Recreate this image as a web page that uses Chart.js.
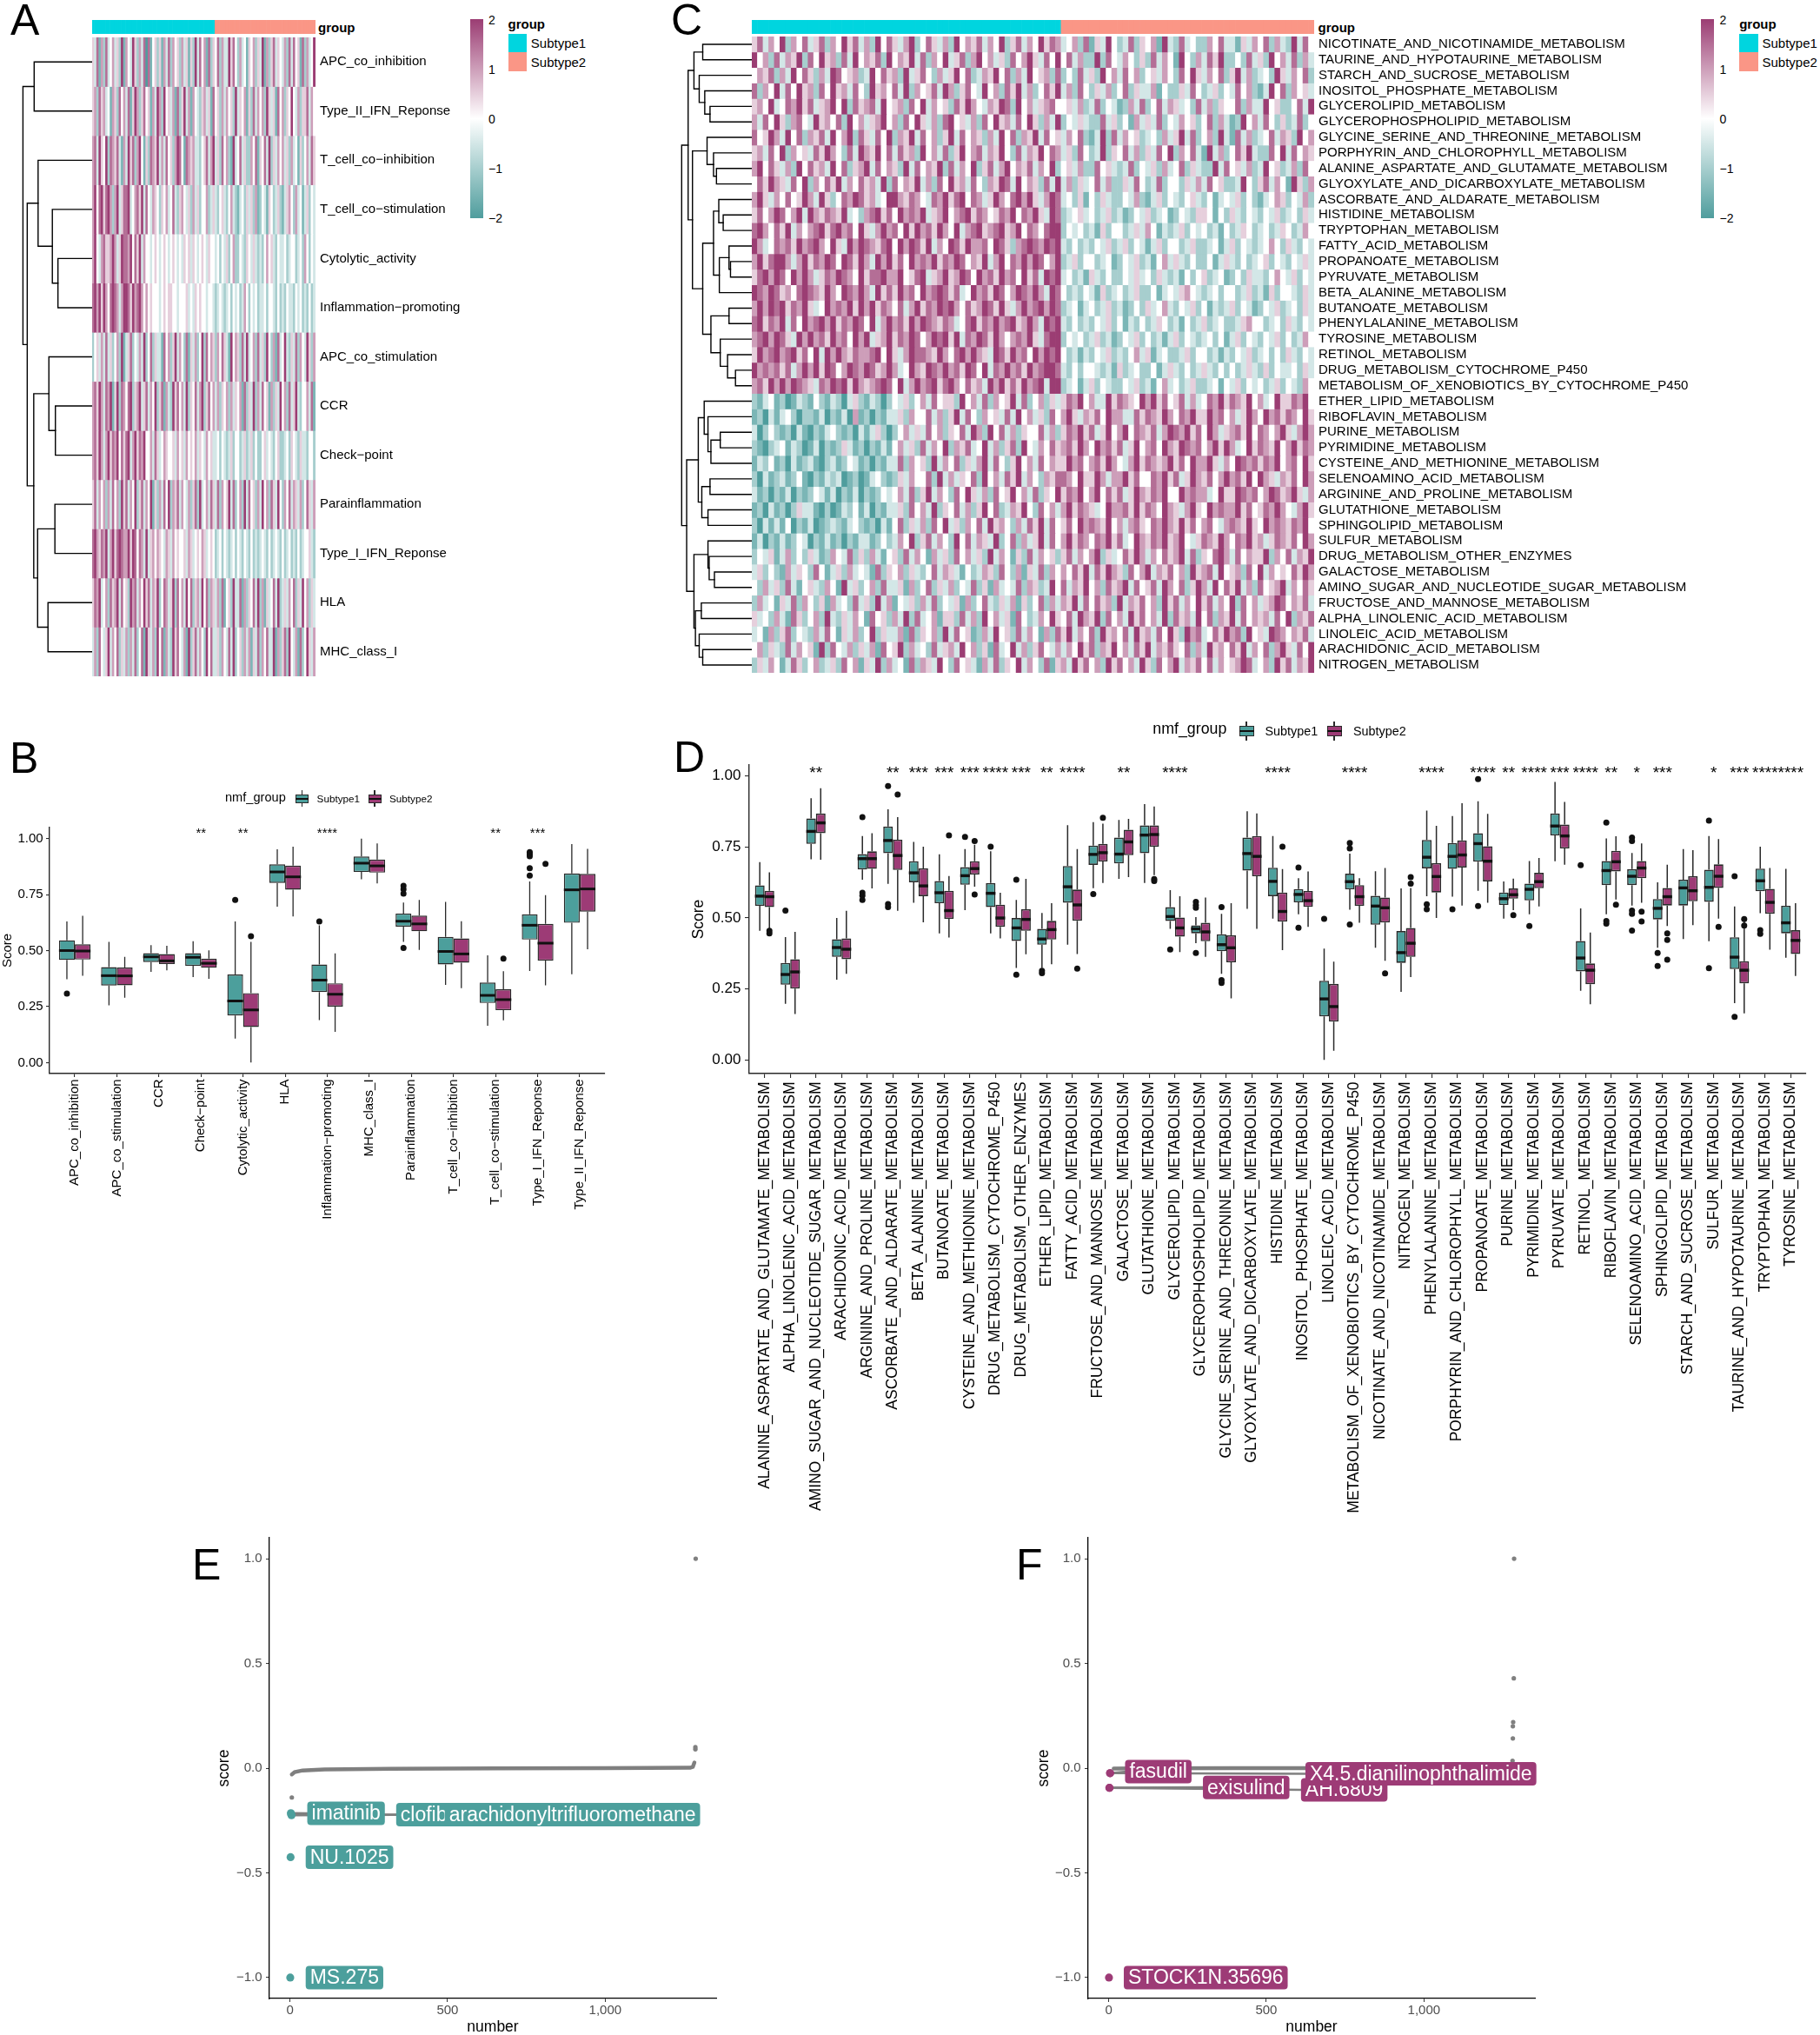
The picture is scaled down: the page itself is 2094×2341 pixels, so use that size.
<!DOCTYPE html>
<html>
<head>
<meta charset="utf-8">
<title>Immune and metabolic subtypes</title>
<script src="https://cdn.jsdelivr.net/npm/chart.js@4.4.1/dist/chart.umd.min.js"></script>
<style>
  html, body { margin: 0; padding: 0; background: #fff; }
  body { position: relative; width: 2094px; height: 2341px; overflow: hidden;
         font-family: "Liberation Sans", Arial, Helvetica, sans-serif; color: #000; }
  canvas { position: absolute; }
  .t { position: absolute; white-space: nowrap; line-height: 1; }
  .r { position: absolute; box-sizing: border-box; }
</style>
</head>
<body>
<script>
// ---------------- data ----------------
const sampleGroups = ['Subtype1', 'Subtype2'];
const groupSizes = [55, 45];

// panel A: immune signature heatmap (rows in clustered order), digits 0..8 = z -2..2
const immuneRows = ['APC_co_inhibition', 'Type_II_IFN_Reponse', 'T_cell_co\u2212inhibition', 'T_cell_co\u2212stimulation',
  'Cytolytic_activity', 'Inflammation\u2212promoting', 'APC_co_stimulation', 'CCR', 'Check\u2212point',
  'Parainflammation', 'Type_I_IFN_Reponse', 'HLA', 'MHC_class_I'];
const immuneHeat = [
  '53716 27346 35281 64385 26370 71452 51637 26452 63515 28374 61725  47263 38574 26341 54625 38162 57354 36273 74517 26348',
  '56275 63416 52746 37158 62574 51638 62845 36172 58361 64325 63517  45263 64528 35461 52736 46285 35174 62548 43625 57364',
  '67385 48276 57316 38572 68415 27658 36374 52687 41765 63324 57368  35274 62183 47352 26471 54738 25364 63526 34152 46375',
  '68478 57862 68357 78346 75837 43654 25463 47325 64352 63524 46235  32453 24632 13425 35261 24315 42352 13564 26341 35243',
  '68436 75568 63587 76847 58364 43454 34543 45434 35453 54345 43544  34243 52462 24325 43532 32464 53243 34234 42342 64243',
  '78685 86478 76368 87586 78646 45444 34545 54434 44534 35454 43443  23432 34243 42364 24342 33424 43242 32433 24342 32423',
  '24536 37352 46281 35724 36382 47253 31746 25836 42715 36248 27465  26475 31846 52738 34627 35284 26173 48325 37264 38526',
  '67586 37681 58276 47825 68357 36482 57163 28574 63825 47368 25746  36254 62635 46172 53826 37451 62538 46273 58324 46371',
  '67586 36857 68475 78368 57684 46375 34654 45364 53645 46354 36453  34243 23524 42352 35242 24534 32452 23425 43253 32442',
  '57364 62637 46285 73648 25736 48152 63748 26573 64362 57283 46375  37264 58372 46283 74526 38462 75384 26473 65362 47536',
  '78657 68368 57876 68587 47638 35646 54365 36454 45365 34546 53454  23424 32342 43243 24232 34324 23432 42342 32423 44532',
  '57683 46275 68374 52867 36485 73658 24763 58274 63847 25638 47265  36271 45283 37162 54738 26153 47382 35364 72538 46253',
  '36274 35836 47253 62637 24718 53628 47163 28574 36182 57364 28473  35264 37382 45263 61537 26473 38162 57284 36172 48536'
];
const immuneMerge = [[-1, -2], [-5, -6], [-4, 2], [-3, 3], [-8, -9], [-7, 5], [-10, -11], [-12, -13], [7, 8], [6, 9], [4, 10], [1, 11]];
const immuneHeight = [0.838, 0.494, 0.575, 0.781, 0.531, 0.625, 0.538, 0.638, 0.788, 0.844, 0.938, 1.0];

// panel C: metabolic pathway heatmap
const metabRows = ['NICOTINATE_AND_NICOTINAMIDE_METABOLISM', 'TAURINE_AND_HYPOTAURINE_METABOLISM', 'STARCH_AND_SUCROSE_METABOLISM',
  'INOSITOL_PHOSPHATE_METABOLISM', 'GLYCEROLIPID_METABOLISM', 'GLYCEROPHOSPHOLIPID_METABOLISM', 'GLYCINE_SERINE_AND_THREONINE_METABOLISM',
  'PORPHYRIN_AND_CHLOROPHYLL_METABOLISM', 'ALANINE_ASPARTATE_AND_GLUTAMATE_METABOLISM', 'GLYOXYLATE_AND_DICARBOXYLATE_METABOLISM',
  'ASCORBATE_AND_ALDARATE_METABOLISM', 'HISTIDINE_METABOLISM', 'TRYPTOPHAN_METABOLISM', 'FATTY_ACID_METABOLISM', 'PROPANOATE_METABOLISM',
  'PYRUVATE_METABOLISM', 'BETA_ALANINE_METABOLISM', 'BUTANOATE_METABOLISM', 'PHENYLALANINE_METABOLISM', 'TYROSINE_METABOLISM',
  'RETINOL_METABOLISM', 'DRUG_METABOLISM_CYTOCHROME_P450', 'METABOLISM_OF_XENOBIOTICS_BY_CYTOCHROME_P450', 'ETHER_LIPID_METABOLISM',
  'RIBOFLAVIN_METABOLISM', 'PURINE_METABOLISM', 'PYRIMIDINE_METABOLISM', 'CYSTEINE_AND_METHIONINE_METABOLISM', 'SELENOAMINO_ACID_METABOLISM',
  'ARGININE_AND_PROLINE_METABOLISM', 'GLUTATHIONE_METABOLISM', 'SPHINGOLIPID_METABOLISM', 'SULFUR_METABOLISM',
  'DRUG_METABOLISM_OTHER_ENZYMES', 'GALACTOSE_METABOLISM', 'AMINO_SUGAR_AND_NUCLEOTIDE_SUGAR_METABOLISM', 'FRUCTOSE_AND_MANNOSE_METABOLISM',
  'ALPHA_LINOLENIC_ACID_METABOLISM', 'LINOLEIC_ACID_METABOLISM', 'ARACHIDONIC_ACID_METABOLISM', 'NITROGEN_METABOLISM'];
const metabHeat = [
  '57364 82647 35726 48573 62847 53682 47536 28465 73648 25736 48576  34627 15384 23725 46183 27342 26473 31536 47263 28374',
  '84627 36582 74856 27384 65728 46583 72648 35726 84635 27468 53748  47362 28274 36425 27364 18426 37582 24273 52846 37263',
  '46572 63847 52638 74562 38475 62835 74263 58472 36584 72638 45627  24273 52846 37462 45364 27485 36472 58362 34285 36472',
  '72648 37485 62748 56374 28564 73826 45738 62574 38462 75836 24758  36274 25362 47253 36142 25374 23524 37462 13847 26453',
  '56483 47685 73568 48275 67384 56274 83645 27586 43658 72846 35674  45362 37243 12637 24736 53427 36254 47263 38452 24738',
  '63748 52674 38564 72846 35684 62748 53627 84536 27485 63748 52638  24353 22735 24163 53724 36452 47263 12846 37425 23724',
  '74586 38472 65738 46827 53748 26583 74625 83746 52638 47265 83745  36472 13827 36452 34263 58372 46283 17362 34736 52846',
  '56374 82645 37586 42738 65847 37562 84637 25846 73658 42736 58476  35274 23825 47362 53748 26473 18362 47583 22748 37465',
  '68475 36284 75638 47256 83746 52837 46582 73648 25736 84657 36482  45362 27453 23724 35263 47253 22837 45362 38452 36274',
  '47586 53748 26475 83647 56382 74658 36274 85637 42658 73846 52738  36253 47362 25374 23724 42536 37452 23842 57364 18526',
  '68536 47458 63852 47687 56348 86576 43768 57847 63586 47868 53687  34251 42532 24362 13524 32453 24134 35242 13465 24362',
  '57468 74683 86576 58342 67857 48676 83568 46785 76457 68476 85387  23453 42352 31243 52341 24325 54142 53243 24352 34253',
  '78647 58364 67857 86748 53686 74858 67586 48367 85678 56847 64788  24342 31524 42353 64132 35243 42314 23542 34235 42364',
  '86347 67586 78648 53868 76578 48687 58364 87586 67487 52678 76878  32423 24352 35243 13524 42352 23413 52432 34642 53243',
  '68578 86368 57687 48758 63868 57486 76857 68746 58368 47686 87468  23524 42341 24352 31463 53242 24135 32423 45243 24353',
  '57868 74868 63576 87648 57786 68457 83568 56874 86758 67485 73878  34231 53242 24353 42532 31424 52341 24253 32464 35243',
  '87687 56478 76586 48768 63857 58674 86787 57348 67587 46876 86387  42324 31523 42352 24134 35643 23424 42352 31524 43253',
  '68687 85768 53486 76858 68576 47368 57687 86475 68758 53686 78687  23413 42352 31242 53463 24352 41323 52431 24352 34253',
  '78576 83748 67868 57687 48368 67586 87657 63478 57686 78568 63878  32423 24352 41324 23542 31423 52342 23564 42342 53243',
  '67868 75386 86758 67486 83568 57687 46878 58376 87586 46768 53788  24342 35231 24352 42313 52432 34241 35243 24352 42364',
  '58678 67857 48386 86576 67848 53687 76586 47868 65387 58674 86878  42313 24352 32463 51342 23524 42313 24352 34242 53243',
  '86767 57368 68587 46876 87568 63486 58768 67587 48376 86758 67887  32424 43231 52342 24135 32423 53242 42353 25243 34253',
  '67586 86876 53768 78586 56787 48368 67857 86475 63868 57586 78388  23413 52432 24352 31463 42352 23414 35243 42352 43264',
  '21341 20132 14213 20352 13202 43524 63745 52846 37264 58372 46253  57684 63385 76548 68574 57363 47685 76584 63485 57684',
  '12031 34202 21302 13061 20213 35264 47362 58374 26453 73846 35274  68536 57486 63375 76586 47685 58674 63586 48675 76485',
  '30242 12031 02134 21203 13520 24635 37462 54738 62847 36254 47362  57685 73584 68476 57368 76857 48635 67584 76468 53686',
  '21023 41320 13021 25312 02131 46352 73648 26573 48362 57284 36475  67586 48675 73584 67486 58767 46858 63485 76584 68576',
  '13241 20312 31023 12431 20213 37264 52836 47253 68374 25846 37465  58674 67586 43685 76568 57486 68536 48767 57684 67485',
  '20312 31241 02132 30120 13421 25364 47283 63547 28463 75836 42657  76485 58636 68574 47685 73586 57468 67584 86536 57486',
  '31202 13021 24313 02130 21243 46372 58364 27485 36274 58463 72548  57684 68475 73586 57684 48676 63485 58767 46875 68536',
  '12031 20253 31020 13241 30213 35274 63825 47362 58472 36584 27463  68576 53486 67585 76486 53685 48676 68574 57686 43685',
  '20313 14021 30123 21342 12031 47253 62748 35264 73856 42637 58374  57486 76584 63675 47686 58574 67436 76585 48676 57684',
  '13021 31243 02131 20213 31242 36482 57364 28473 65382 47263 58374  68576 47685 73486 57685 68435 76586 47685 63576 57486',
  '24351 36242 53126 43725 26314 52736 41635 27463 52836 41527 36452  57364 68253 47586 36475 68372 54786 37465 58264 73658',
  '35242 16354 27413 52634 31725 46253 24736 53142 36527 42615 37264  64758 37586 52746 83657 46285 67384 56274 83645 47586',
  '42635 27314 53264 18352 46273 35162 47253 62437 25163 43726 52384  73658 46275 68374 57386 47258 63847 58362 74568 36475',
  '26341 53726 42516 34273 52836 14352 63724 35162 47325 36152 47263  65837 47562 83657 46285 73648 57364 82746 35687 46573',
  '53426 31752 46283 25364 17452 63827 34615 52736 28463 51742 36485  47386 58274 63857 46382 75638 47265 83746 56374 82657',
  '34162 57243 26374 15362 48253 36172 54628 37451 26384 52736 41627  58364 72856 47385 63748 52867 34758 67284 53876 46573',
  '46253 27364 51827 43625 36174 58263 42735 63846 25173 48362 57436  36485 72658 46375 83657 54726 38564 75836 47268 53748',
  '25364 13752 46235 27461 53826 34172 65384 27453 16372 54836 42715  63857 46285 74638 52746 83657 47364 56873 46285 73658'
];
const metabMerge = [[-1, -2], [-5, -6], [-4, 2], [-3, 3], [1, 4], [-9, -10], [-8, 6], [-7, 7], [-12, -13], [-11, 9],
  [-15, -16], [-14, 11], [12, -17], [10, 13], [-18, -19], [-22, -23], [-21, 16], [-20, 17], [15, 18], [14, 19],
  [8, 20], [5, 21], [-26, -27], [23, -28], [-25, 24], [-24, 25], [-29, -30], [-31, -32], [27, 28], [26, 29],
  [-35, -36], [-34, 31], [-33, 32], [-37, -38], [-40, -41], [-39, 35], [34, 36], [33, 37], [30, 38], [22, 39]];
const metabHeight = [0.70, 0.596, 0.671, 0.75, 0.825, 0.504, 0.546, 0.638, 0.408, 0.471,
  0.304, 0.325, 0.463, 0.546, 0.325, 0.233, 0.346, 0.45, 0.583, 0.70,
  0.846, 0.908, 0.45, 0.583, 0.625, 0.679, 0.596, 0.625, 0.713, 0.763,
  0.533, 0.608, 0.625, 0.72, 0.70, 0.75, 0.804, 0.825, 0.929, 1.0];

// panel B: immune scores by subtype (box statistics)
const immuneCats = ['APC_co_inhibition', 'APC_co_stimulation', 'CCR', 'Check\u2212point', 'Cytolytic_activity', 'HLA',
  'Inflammation\u2212promoting', 'MHC_class_I', 'Parainflammation', 'T_cell_co\u2212inhibition', 'T_cell_co\u2212stimulation',
  'Type_I_IFN_Reponse', 'Type_II_IFN_Reponse'];
const immuneS1Low = [0.372, 0.256, 0.405, 0.382, 0.107, 0.696, 0.19, 0.818, 0.539, 0.347, 0.164, 0.409, 0.394];
const immuneS1Q1 = [0.458, 0.344, 0.449, 0.432, 0.21, 0.802, 0.315, 0.851, 0.607, 0.438, 0.266, 0.549, 0.624];
const immuneS1Med = [0.50, 0.388, 0.472, 0.47, 0.275, 0.851, 0.368, 0.89, 0.631, 0.496, 0.30, 0.613, 0.771];
const immuneS1Q3 = [0.546, 0.426, 0.488, 0.488, 0.393, 0.885, 0.438, 0.92, 0.665, 0.561, 0.357, 0.662, 0.844];
const immuneS1High = [0.63, 0.539, 0.524, 0.542, 0.63, 0.952, 0.613, 1.0, 0.714, 0.717, 0.479, 0.808, 0.975];
const immuneS1Out = [[0.308], [], [], [], [0.726], [], [0.63], [], [0.789, 0.774, 0.754, 0.512], [], [], [0.939, 0.93, 0.921, 0.868, 0.835], []];
const immuneS2Low = [0.387, 0.29, 0.412, 0.374, 0.0, 0.652, 0.137, 0.80, 0.503, 0.332, 0.189, 0.345, 0.506];
const immuneS2Q1 = [0.46, 0.345, 0.44, 0.423, 0.159, 0.772, 0.25, 0.848, 0.586, 0.446, 0.234, 0.455, 0.674];
const immuneS2Med = [0.498, 0.387, 0.454, 0.443, 0.235, 0.829, 0.305, 0.878, 0.619, 0.485, 0.281, 0.533, 0.775];
const immuneS2Q3 = [0.528, 0.424, 0.484, 0.464, 0.31, 0.879, 0.354, 0.906, 0.656, 0.554, 0.327, 0.619, 0.842];
const immuneS2High = [0.655, 0.472, 0.521, 0.501, 0.539, 0.964, 0.487, 0.978, 0.726, 0.631, 0.408, 0.747, 0.954];
const immuneS2Out = [[], [], [], [], [0.564], [], [], [], [], [], [0.464], [0.887], []];
const immuneSignif = ['', '', '', '**', '**', '', '****', '', '', '', '**', '***', ''];

// panel D: metabolic pathway scores by subtype
const metabCats = ['ALANINE_ASPARTATE_AND_GLUTAMATE_METABOLISM', 'ALPHA_LINOLENIC_ACID_METABOLISM', 'AMINO_SUGAR_AND_NUCLEOTIDE_SUGAR_METABOLISM',
  'ARACHIDONIC_ACID_METABOLISM', 'ARGININE_AND_PROLINE_METABOLISM', 'ASCORBATE_AND_ALDARATE_METABOLISM', 'BETA_ALANINE_METABOLISM',
  'BUTANOATE_METABOLISM', 'CYSTEINE_AND_METHIONINE_METABOLISM', 'DRUG_METABOLISM_CYTOCHROME_P450', 'DRUG_METABOLISM_OTHER_ENZYMES',
  'ETHER_LIPID_METABOLISM', 'FATTY_ACID_METABOLISM', 'FRUCTOSE_AND_MANNOSE_METABOLISM', 'GALACTOSE_METABOLISM', 'GLUTATHIONE_METABOLISM',
  'GLYCEROLIPID_METABOLISM', 'GLYCEROPHOSPHOLIPID_METABOLISM', 'GLYCINE_SERINE_AND_THREONINE_METABOLISM', 'GLYOXYLATE_AND_DICARBOXYLATE_METABOLISM',
  'HISTIDINE_METABOLISM', 'INOSITOL_PHOSPHATE_METABOLISM', 'LINOLEIC_ACID_METABOLISM', 'METABOLISM_OF_XENOBIOTICS_BY_CYTOCHROME_P450',
  'NICOTINATE_AND_NICOTINAMIDE_METABOLISM', 'NITROGEN_METABOLISM', 'PHENYLALANINE_METABOLISM', 'PORPHYRIN_AND_CHLOROPHYLL_METABOLISM',
  'PROPANOATE_METABOLISM', 'PURINE_METABOLISM', 'PYRIMIDINE_METABOLISM', 'PYRUVATE_METABOLISM', 'RETINOL_METABOLISM',
  'RIBOFLAVIN_METABOLISM', 'SELENOAMINO_ACID_METABOLISM', 'SPHINGOLIPID_METABOLISM', 'STARCH_AND_SUCROSE_METABOLISM', 'SULFUR_METABOLISM',
  'TAURINE_AND_HYPOTAURINE_METABOLISM', 'TRYPTOPHAN_METABOLISM', 'TYROSINE_METABOLISM'];
const metabS1Low = [0.455, 0.198, 0.707, 0.283, 0.635, 0.62, 0.554, 0.446, 0.528, 0.446, 0.324, 0.324, 0.406, 0.605, 0.638, 0.623, 0.462, 0.411, 0.303, 0.532, 0.498, 0.513, 0.0, 0.529, 0.395, 0.24, 0.577, 0.575, 0.596, 0.498, 0.513, 0.70, 0.244, 0.513, 0.544, 0.395, 0.426, 0.418, 0.20, 0.517, 0.36];
const metabS1Q1 = [0.543, 0.265, 0.761, 0.363, 0.671, 0.728, 0.626, 0.552, 0.617, 0.538, 0.419, 0.406, 0.554, 0.687, 0.692, 0.728, 0.489, 0.446, 0.383, 0.667, 0.577, 0.555, 0.153, 0.601, 0.476, 0.342, 0.675, 0.673, 0.698, 0.546, 0.562, 0.791, 0.312, 0.616, 0.616, 0.495, 0.544, 0.557, 0.32, 0.594, 0.446];
const metabS1Med = [0.577, 0.301, 0.805, 0.396, 0.709, 0.773, 0.659, 0.589, 0.649, 0.587, 0.465, 0.426, 0.61, 0.724, 0.725, 0.792, 0.505, 0.462, 0.406, 0.727, 0.629, 0.583, 0.215, 0.628, 0.542, 0.378, 0.714, 0.717, 0.762, 0.568, 0.601, 0.824, 0.359, 0.667, 0.647, 0.534, 0.606, 0.608, 0.362, 0.631, 0.483];
const metabS1Q3 = [0.615, 0.342, 0.851, 0.425, 0.725, 0.822, 0.70, 0.63, 0.679, 0.623, 0.50, 0.462, 0.683, 0.755, 0.783, 0.826, 0.538, 0.474, 0.443, 0.783, 0.677, 0.602, 0.279, 0.656, 0.578, 0.454, 0.775, 0.764, 0.799, 0.59, 0.621, 0.868, 0.419, 0.701, 0.672, 0.567, 0.635, 0.67, 0.432, 0.674, 0.543];
const metabS1High = [0.697, 0.433, 0.922, 0.50, 0.789, 0.883, 0.768, 0.724, 0.743, 0.735, 0.564, 0.518, 0.827, 0.838, 0.845, 0.901, 0.598, 0.503, 0.515, 0.876, 0.789, 0.64, 0.392, 0.727, 0.665, 0.604, 0.878, 0.859, 0.911, 0.629, 0.701, 0.979, 0.534, 0.78, 0.729, 0.626, 0.743, 0.789, 0.541, 0.751, 0.673];
const metabS1Out = [[], [0.526], [], [], [0.855, 0.589, 0.579, 0.564], [0.965, 0.549, 0.538], [], [], [0.786], [0.751], [0.30, 0.635],
  [0.314, 0.306], [], [0.584], [], [], [0.389], [0.557, 0.545, 0.536, 0.377], [0.538, 0.281, 0.271], [], [], [0.678, 0.466], [0.497],
  [0.764, 0.745, 0.477], [], [], [0.548, 0.531], [0.531], [0.989, 0.542], [], [0.472], [], [0.686], [0.836, 0.489, 0.48],
  [0.783, 0.771, 0.526, 0.515, 0.456], [0.377, 0.331], [], [0.843, 0.323], [0.647, 0.152], [0.457, 0.444], []];
const metabS2Low = [0.462, 0.162, 0.705, 0.303, 0.604, 0.525, 0.485, 0.431, 0.61, 0.428, 0.372, 0.337, 0.373, 0.623, 0.644, 0.651, 0.38, 0.363, 0.217, 0.462, 0.387, 0.469, 0.032, 0.483, 0.349, 0.292, 0.50, 0.544, 0.554, 0.528, 0.541, 0.688, 0.196, 0.565, 0.554, 0.472, 0.475, 0.498, 0.164, 0.388, 0.296];
const metabS2Q1 = [0.538, 0.251, 0.799, 0.355, 0.673, 0.669, 0.577, 0.497, 0.653, 0.469, 0.455, 0.424, 0.49, 0.699, 0.721, 0.751, 0.434, 0.418, 0.344, 0.647, 0.487, 0.539, 0.135, 0.543, 0.484, 0.363, 0.59, 0.678, 0.629, 0.568, 0.605, 0.745, 0.267, 0.664, 0.64, 0.544, 0.559, 0.606, 0.27, 0.515, 0.373];
const metabS2Med = [0.575, 0.31, 0.835, 0.39, 0.709, 0.72, 0.613, 0.526, 0.674, 0.50, 0.495, 0.459, 0.546, 0.73, 0.768, 0.794, 0.465, 0.451, 0.395, 0.717, 0.523, 0.561, 0.188, 0.575, 0.536, 0.411, 0.646, 0.722, 0.70, 0.582, 0.628, 0.789, 0.316, 0.698, 0.676, 0.575, 0.596, 0.647, 0.316, 0.555, 0.421];
const metabS2Q3 = [0.596, 0.355, 0.868, 0.428, 0.735, 0.776, 0.675, 0.596, 0.70, 0.547, 0.531, 0.49, 0.60, 0.761, 0.811, 0.826, 0.502, 0.483, 0.439, 0.789, 0.59, 0.595, 0.268, 0.616, 0.572, 0.465, 0.693, 0.773, 0.753, 0.604, 0.659, 0.829, 0.34, 0.737, 0.701, 0.606, 0.647, 0.689, 0.348, 0.603, 0.457];
const metabS2High = [0.661, 0.451, 0.957, 0.525, 0.799, 0.855, 0.751, 0.648, 0.758, 0.589, 0.638, 0.552, 0.743, 0.832, 0.849, 0.893, 0.577, 0.572, 0.552, 0.868, 0.672, 0.664, 0.346, 0.64, 0.676, 0.606, 0.825, 0.904, 0.867, 0.639, 0.711, 0.909, 0.449, 0.788, 0.763, 0.688, 0.739, 0.778, 0.503, 0.676, 0.552];
const metabS2Out = [[0.455, 0.446], [], [], [], [], [0.935], [], [0.791], [0.771, 0.583], [], [], [], [0.322], [0.853], [], [0.637, 0.63],
  [], [], [], [], [0.751], [], [], [], [0.305], [0.644, 0.621], [], [], [], [0.51], [], [], [], [0.547], [0.522, 0.488],
  [0.446, 0.423, 0.353], [], [0.469], [0.496, 0.473], [], []];
const metabSignif = ['', '', '**', '', '', '**', '***', '***', '***', '****', '***', '**', '****', '', '**', '', '****', '', '', '',
  '****', '', '', '****', '', '', '****', '', '****', '**', '****', '***', '****', '**', '*', '***', '', '*', '***', '****', '****'];

// panel E: drug sensitivity scores for Subtype1
const drugE_curveNumber = [6, 15, 40, 110, 320, 660, 1000, 1270, 1278, 1283];
const drugE_curveScore = [-0.03, -0.019, -0.011, -0.006, -0.003, -0.0015, 0.0, 0.002, 0.006, 0.027];
const drugE_otherNumber = [6, 1286, 1286, 1287];
const drugE_otherScore = [-0.14, 0.09, 0.1, 1.0];
const drugE_names = ['MS.275', 'NU.1025', 'imatinib', 'clofibrate', 'arachidonyltrifluoromethane'];
const drugE_number = [1, 2, 3, 4, 5];
const drugE_score = [-1.0, -0.425, -0.215, -0.22, -0.225];
const drugE_labelNumber = [50, 50, 55, 337, 491];
const drugE_labelScore = [-1.0, -0.425, -0.216, -0.222, -0.222];
const drugE_segment = [false, false, true, true, true];

// panel F: drug sensitivity scores for Subtype2
const drugF_curveNumber = [16, 100, 400, 1000, 1276, 1280];
const drugF_curveScore = [-0.002, -0.001, 0.0, 0.0, 0.003, 0.02];
const drugF_otherNumber = [1281, 1282, 1282, 1283, 1285, 1286];
const drugF_otherScore = [0.035, 0.142, 0.2, 0.22, 0.429, 1.0];
const drugF_names = ['STOCK1N.35696', 'fasudil', 'exisulind', 'AH.6809', 'X4.5.dianilinophthalimide'];
const drugF_number = [1, 4, 2, 3, 5];
const drugF_score = [-1.0, -0.024, -0.094, -0.094, -0.024];
const drugF_labelNumber = [48, 52, 299, 610, 624];
const drugF_labelScore = [-1.0, -0.017, -0.092, -0.104, -0.027];
const drugF_segment = [false, true, true, true, true];

// ---------------- styling ----------------
const FONT = '"Liberation Sans", Arial, Helvetica, sans-serif';
const TEAL = '#4C9F9C', PLUM = '#9D3B76';
const GROUP_COLORS = ['#00D5DF', '#FA9686'];
const HEAT_LOW = [79, 157, 157], HEAT_MID = [255, 255, 255], HEAT_HIGH = [155, 61, 115];
const LINE_DARK = '#2a2a2a';

Chart.defaults.font.family = FONT;
Chart.defaults.color = '#000';
Chart.defaults.animation = false;
Chart.defaults.events = [];
Chart.defaults.plugins.legend.display = false;
Chart.defaults.plugins.tooltip.enabled = false;

function makeCanvas(left, top, w, h) {
  const c = document.createElement('canvas');
  c.width = w; c.height = h;
  c.style.left = left + 'px'; c.style.top = top + 'px';
  c.style.width = w + 'px'; c.style.height = h + 'px';
  document.body.appendChild(c);
  return c;
}

// fixed axis size, no extra label padding pushed into the layout
function fixSize(prop, size) {
  return s => {
    s[prop] = size;
    s.paddingTop = 0; s.paddingBottom = 0; s.paddingLeft = 0; s.paddingRight = 0;
  };
}

function label(str, left, baseline, size, bold, color) {
  const d = document.createElement('div');
  d.className = 't';
  d.textContent = str;
  d.style.left = left + 'px';
  d.style.top = (baseline - 0.8465 * size) + 'px';
  d.style.fontSize = size + 'px';
  if (bold) d.style.fontWeight = 'bold';
  if (color) d.style.color = color;
  document.body.appendChild(d);
}

function block(left, top, w, h, css) {
  const d = document.createElement('div');
  d.className = 'r';
  d.style.left = left + 'px'; d.style.top = top + 'px';
  d.style.width = w + 'px'; d.style.height = h + 'px';
  Object.assign(d.style, css);
  document.body.appendChild(d);
}

function heatColor(ch) {
  const v = (Number(ch) - 4) / 4;
  const end = v < 0 ? HEAT_LOW : HEAT_HIGH, t = Math.min(1, Math.abs(v));
  return 'rgb(' + HEAT_MID.map((m, k) => Math.round(m + (end[k] - m) * t)).join(',') + ')';
}

// ---------------- heatmaps ----------------
function heatPanel(rows, cells, left, top, width, height, labelWidth) {
  const grid = cells.map(r => r.replace(/\s+/g, '').split(''));
  const cols = grid[0].map((c, j) => j + 1);
  new Chart(makeCanvas(left, top, width, height), {
    type: 'bar',
    data: {
      labels: cols,
      datasets: rows.map((name, i) => ({
        label: name,
        data: cols.map(() => 1),
        backgroundColor: grid[i].map(heatColor),
        borderWidth: 0, categoryPercentage: 1, barPercentage: 1
      }))
    },
    options: {
      responsive: false,
      layout: { padding: 0, autoPadding: false },
      scales: {
        x: { stacked: true, display: false },
        y: {
          stacked: true, reverse: true, min: 0, max: rows.length, position: 'right',
          afterBuildTicks: s => { s.ticks = rows.map((r, i) => ({ value: i + 0.5 })); },
          afterFit: fixSize('width', labelWidth),
          ticks: { autoSkip: false, padding: 5, font: { size: 15 }, color: '#000', callback: (v, i) => rows[i] },
          grid: { display: false, drawTicks: false }, border: { display: false }
        }
      }
    }
  });
}

function annotationPanel(left, top, width, height) {
  const groupOf = [];
  groupSizes.forEach((n, g) => { for (let k = 0; k < n; k++) groupOf.push(g); });
  new Chart(makeCanvas(left, top, width, height), {
    type: 'bar',
    data: {
      labels: groupOf.map((g, j) => j + 1),
      datasets: [{ data: groupOf.map(() => 1), backgroundColor: groupOf.map(g => GROUP_COLORS[g]),
        borderWidth: 0, categoryPercentage: 1, barPercentage: 1 }]
    },
    options: {
      responsive: false,
      layout: { padding: 0, autoPadding: false },
      scales: { x: { display: false }, y: { display: false, min: 0, max: 1 } }
    }
  });
}

function dendroPanel(merges, heights, nLeaf, left, top, width, height, xMax) {
  const ypos = [];
  const nodeY = k => k < 0 ? -k : ypos[k - 1];
  const nodeH = k => k < 0 ? 0 : heights[k - 1];
  const segs = merges.map(([a, b], m) => {
    const h = heights[m];
    const pts = [{ x: nodeH(a), y: nodeY(a) }, { x: h, y: nodeY(a) }, { x: h, y: nodeY(b) }, { x: nodeH(b), y: nodeY(b) }];
    ypos[m] = (nodeY(a) + nodeY(b)) / 2;
    return pts;
  });
  new Chart(makeCanvas(left, top, width, height), {
    type: 'scatter',
    data: { datasets: segs.map(d => ({ data: d, showLine: true, pointRadius: 0, borderColor: '#000',
      borderWidth: 1.4, borderJoinStyle: 'miter', borderCapStyle: 'square', clip: false })) },
    options: {
      responsive: false,
      layout: { padding: 0, autoPadding: false },
      scales: {
        x: { display: false, reverse: true, min: 0, max: xMax },
        y: { display: false, reverse: true, min: 0.5, max: nLeaf + 0.5 }
      }
    }
  });
}

function colorKey(left, top, w, h, textLeft) {
  block(left, top, w, h, { background: 'linear-gradient(to bottom, rgb(155,61,115), #fff 50%, rgb(79,157,157))' });
  ['2', '1', '0', '\u22121', '\u22122'].forEach((t, k) => label(t, textLeft, top + k * h / 4 + 5, 14));
}

function groupKey(left, top) {
  label('group', left, top + 9.9, 15, true);
  GROUP_COLORS.forEach((c, g) => {
    block(left, top + 16.4 + g * 21.6, 21.5, 21.6, { background: c });
    label(sampleGroups[g], left + 26.3, top + 32.7 + g * 21.6, 15);
  });
}

// ---------------- boxplots ----------------
function boxPanel(cats, s1, s2, signif, g) {
  const n = cats.length;
  const set = (name, st, color) => ({
    label: name,
    data: cats.map((c, i) => ({ x: i + 1, y: [st.q1[i], st.q3[i]] })),
    backgroundColor: color, borderColor: LINE_DARK, borderWidth: g.border, borderSkipped: false,
    categoryPercentage: 0.75, barPercentage: 1, stats: st
  });
  const extras = {
    id: 'boxExtras',
    beforeDatasetsDraw(chart) {
      const ctx = chart.ctx, y = chart.scales.y;
      ctx.save();
      ctx.strokeStyle = LINE_DARK; ctx.lineWidth = g.whisker;
      chart.data.datasets.forEach((ds, di) => {
        chart.getDatasetMeta(di).data.forEach((bar, i) => {
          const st = ds.stats;
          ctx.beginPath();
          ctx.moveTo(bar.x, y.getPixelForValue(st.hi[i])); ctx.lineTo(bar.x, y.getPixelForValue(st.q3[i]));
          ctx.moveTo(bar.x, y.getPixelForValue(st.q1[i])); ctx.lineTo(bar.x, y.getPixelForValue(st.lo[i]));
          ctx.stroke();
        });
      });
      ctx.restore();
    },
    afterDatasetsDraw(chart) {
      const ctx = chart.ctx, x = chart.scales.x, y = chart.scales.y;
      ctx.save();
      chart.data.datasets.forEach((ds, di) => {
        chart.getDatasetMeta(di).data.forEach((bar, i) => {
          const st = ds.stats, ym = y.getPixelForValue(st.med[i]);
          ctx.strokeStyle = '#111'; ctx.lineWidth = g.median;
          ctx.beginPath(); ctx.moveTo(bar.x - bar.width / 2, ym); ctx.lineTo(bar.x + bar.width / 2, ym); ctx.stroke();
          ctx.fillStyle = '#111';
          st.out[i].forEach(v => {
            ctx.beginPath(); ctx.arc(bar.x, y.getPixelForValue(v), g.dot, 0, Math.PI * 2); ctx.fill();
          });
        });
      });
      ctx.fillStyle = '#000';
      ctx.font = g.starSize + 'px ' + FONT;
      ctx.textAlign = 'center'; ctx.textBaseline = 'alphabetic';
      signif.forEach((s, i) => {
        if (s) ctx.fillText(s, x.getPixelForValue(i + 1), y.getPixelForValue(g.starY) + 0.57 * g.starSize);
      });
      ctx.restore();
    }
  };
  new Chart(makeCanvas(g.left, g.top, g.width, g.height), {
    type: 'bar',
    data: { datasets: [set(sampleGroups[0], s1, TEAL), set(sampleGroups[1], s2, PLUM)] },
    options: {
      responsive: false,
      layout: { padding: { left: 0, top: g.padTop, right: g.padRight, bottom: 0 }, autoPadding: false },
      scales: {
        x: {
          type: 'linear', min: 0.4, max: n + 0.6, offset: false, bounds: 'data',
          afterBuildTicks: s => { s.ticks = cats.map((c, i) => ({ value: i + 1 })); },
          afterFit: fixSize('height', g.xAxisH),
          ticks: { autoSkip: false, minRotation: 90, maxRotation: 90, padding: g.xTickPad,
            font: { size: g.catSize }, color: '#000', callback: (v, i) => cats[i] },
          grid: { drawOnChartArea: false, offset: false, tickLength: g.tickLen, color: LINE_DARK, lineWidth: 1.1 },
          border: { color: LINE_DARK, width: 1.4 }
        },
        y: {
          min: g.yMin, max: g.yMax, bounds: 'data',
          afterBuildTicks: s => { s.ticks = [0, 0.25, 0.5, 0.75, 1].map(v => ({ value: v })); },
          afterFit: fixSize('width', g.yAxisW),
          ticks: { padding: g.yTickPad, font: { size: g.tickSize }, color: '#000', callback: v => v.toFixed(2) },
          grid: { drawOnChartArea: false, tickLength: g.tickLen, color: LINE_DARK, lineWidth: 1.1 },
          border: { color: LINE_DARK, width: 1.4 },
          title: { display: true, text: 'Score', font: { size: g.titleSize }, color: '#000',
            padding: { top: g.titlePad, bottom: 0 } }
        }
      }
    },
    plugins: [extras]
  });
}

function boxKey(left, cy, w, h, wh, color) {
  block(left + w / 2 - 0.7, cy - h / 2 - wh, 1.4, h + 2 * wh, { background: LINE_DARK });
  block(left, cy - h / 2, w, h, { background: color, border: '1.3px solid ' + LINE_DARK });
  block(left, cy - 1.2, w, 2.4, { background: '#111' });
}

// ---------------- drug ranking scatter ----------------
function drugPanel(d, g) {
  const pts = (xs, ys) => xs.map((x, i) => ({ x, y: ys[i] }));
  const repel = {
    id: 'repel',
    beforeDatasetsDraw(chart) {
      const ctx = chart.ctx, x = chart.scales.x, y = chart.scales.y;
      ctx.save();
      ctx.strokeStyle = '#7F7F7F'; ctx.lineWidth = 2.6;
      d.names.forEach((nm, i) => {
        if (!d.segment[i]) return;
        ctx.beginPath();
        ctx.moveTo(x.getPixelForValue(d.number[i]), y.getPixelForValue(d.score[i]));
        ctx.lineTo(x.getPixelForValue(d.labelNumber[i]) + 2, y.getPixelForValue(d.labelScore[i]));
        ctx.stroke();
      });
      ctx.restore();
    },
    afterDatasetsDraw(chart) {
      const ctx = chart.ctx, x = chart.scales.x, y = chart.scales.y;
      ctx.save();
      ctx.font = '23px ' + FONT;
      ctx.textBaseline = 'middle'; ctx.textAlign = 'left';
      d.names.forEach((nm, i) => {
        const w = ctx.measureText(nm).width + 10, h = 27;
        const x0 = x.getPixelForValue(d.labelNumber[i]), yc = y.getPixelForValue(d.labelScore[i]);
        ctx.fillStyle = g.color;
        ctx.beginPath(); ctx.roundRect(x0, yc - h / 2, w, h, 4); ctx.fill();
        ctx.fillStyle = '#fff';
        ctx.fillText(nm, x0 + 5, yc + 1);
      });
      ctx.restore();
    }
  };
  const axis = { border: { color: '#000', width: 1.3 },
    grid: { drawOnChartArea: false, tickLength: 4, color: '#333', lineWidth: 1 } };
  new Chart(makeCanvas(g.left, g.top, 650, 601), {
    type: 'scatter',
    data: {
      datasets: [
        { data: pts(d.curveNumber, d.curveScore), showLine: true, borderColor: '#7F7F7F', borderWidth: 4.5,
          pointRadius: 0, borderCapStyle: 'round' },
        { data: pts(d.otherNumber, d.otherScore), pointRadius: 2.6, backgroundColor: '#808080', borderWidth: 0 },
        { data: pts(d.number, d.score), pointRadius: 4.6, backgroundColor: g.color, borderWidth: 0 }
      ]
    },
    options: {
      responsive: false,
      layout: { padding: { left: 0, top: 29, right: g.padRight, bottom: 0 }, autoPadding: false },
      scales: {
        x: Object.assign({
          min: -65, max: 1352, bounds: 'data',
          afterBuildTicks: s => { s.ticks = [0, 500, 1000].map(v => ({ value: v })); },
          afterFit: fixSize('height', 42),
          ticks: { padding: 1, font: { size: 15 }, color: '#4D4D4D' },
          title: { display: true, text: 'number', font: { size: 17.5, lineHeight: 1 }, color: '#000', padding: 0 }
        }, axis),
        y: Object.assign({
          min: -1.1, max: 1.1, bounds: 'data',
          afterBuildTicks: s => { s.ticks = [-1, -0.5, 0, 0.5, 1].map(v => ({ value: v })); },
          afterFit: fixSize('width', g.yAxisW),
          ticks: { padding: 4.4, font: { size: 15 }, color: '#4D4D4D',
            callback: v => (v < 0 ? '\u2212' : '') + Math.abs(v).toFixed(1) },
          title: { display: true, text: 'score', font: { size: 17.5 }, color: '#000', padding: { top: g.titlePad, bottom: 0 } }
        }, axis)
      }
    },
    plugins: [repel]
  });
}

// ---------------- build the figure ----------------
// A
dendroPanel(immuneMerge, immuneHeight, immuneRows.length, 20, 43, 86, 735, 86 / 79.6);
annotationPanel(106, 23, 257, 16);
heatPanel(immuneRows, immuneHeat, 106, 43, 434, 735, 177);
label('group', 366, 36.3, 15, true);
colorKey(541, 22.4, 15, 228.8, 562);
groupKey(584.5, 22.4);

// C
dendroPanel(metabMerge, metabHeight, metabRows.length, 779, 42, 86, 732, 86 / 80.7);
annotationPanel(865, 23, 647, 16);
heatPanel(metabRows, metabHeat, 865, 42, 1092, 732, 445);
label('group', 1516.5, 36.3, 15, true);
colorKey(1957.2, 22.4, 15.2, 228.8, 1978.6);
groupKey(2001.2, 22.4);

// B
boxPanel(immuneCats,
  { lo: immuneS1Low, q1: immuneS1Q1, med: immuneS1Med, q3: immuneS1Q3, hi: immuneS1High, out: immuneS1Out },
  { lo: immuneS2Low, q1: immuneS2Q1, med: immuneS2Med, q3: immuneS2Q3, hi: immuneS2High, out: immuneS2Out },
  immuneSignif,
  { left: 0, top: 820, width: 780, height: 600, padTop: 132, padRight: 84, yAxisW: 57, xAxisH: 185,
    yMin: -0.049, yMax: 1.049, tickLen: 4, xTickPad: 2.4, yTickPad: 3.3, catSize: 15, tickSize: 15,
    titleSize: 15, titlePad: 0.2, border: 1.4, whisker: 1.3, median: 3, dot: 3.5, starSize: 15, starY: 1.039 });
label('nmf_group', 259, 922.6, 14.6);
boxKey(339.7, 918.7, 15, 10.3, 4.3, TEAL);
label('Subtype1', 364.6, 922.9, 11.7);
boxKey(423.5, 918.7, 15, 10.3, 4.3, PLUM);
label('Subtype2', 448, 922.9, 11.7);

// D
boxPanel(metabCats,
  { lo: metabS1Low, q1: metabS1Q1, med: metabS1Med, q3: metabS1Q3, hi: metabS1High, out: metabS1Out },
  { lo: metabS2Low, q1: metabS2Q1, med: metabS2Med, q3: metabS2Q3, hi: metabS2High, out: metabS2Out },
  metabSignif,
  { left: 780, top: 820, width: 1314, height: 940, padTop: 60, padRight: 16, yAxisW: 82, xAxisH: 525,
    yMin: -0.048, yMax: 1.039, tickLen: 5, xTickPad: 4.4, yTickPad: 4.6, catSize: 17.5, tickSize: 17,
    titleSize: 17.5, titlePad: 13.9, border: 1.6, whisker: 1.5, median: 3.4, dot: 3.5, starSize: 19, starY: 1.027 });
label('nmf_group', 1326.3, 845.3, 17.8);
boxKey(1425.5, 840.7, 17, 11.7, 5, TEAL);
label('Subtype1', 1455.4, 845.9, 14.4);
boxKey(1526.5, 840.7, 17, 11.7, 5, PLUM);
label('Subtype2', 1557, 845.9, 14.4);

// E
drugPanel({ curveNumber: drugE_curveNumber, curveScore: drugE_curveScore, otherNumber: drugE_otherNumber,
  otherScore: drugE_otherScore, names: drugE_names, number: drugE_number, score: drugE_score,
  labelNumber: drugE_labelNumber, labelScore: drugE_labelScore, segment: drugE_segment },
  { left: 200, top: 1740, padRight: 26, yAxisW: 110, titlePad: 47.8, color: TEAL });

// F
drugPanel({ curveNumber: drugF_curveNumber, curveScore: drugF_curveScore, otherNumber: drugF_otherNumber,
  otherScore: drugF_otherScore, names: drugF_names, number: drugF_number, score: drugF_score,
  labelNumber: drugF_labelNumber, labelScore: drugF_labelScore, segment: drugF_segment },
  { left: 1150, top: 1740, padRight: 34, yAxisW: 102, titlePad: 40.4, color: PLUM });

// panel letters
label('A', 12, 40, 50);
label('C', 772, 40, 50);
label('B', 11, 889, 50);
label('D', 775, 888, 50);
label('E', 221, 1817, 50);
label('F', 1169, 1817, 50);
</script>
</body>
</html>
